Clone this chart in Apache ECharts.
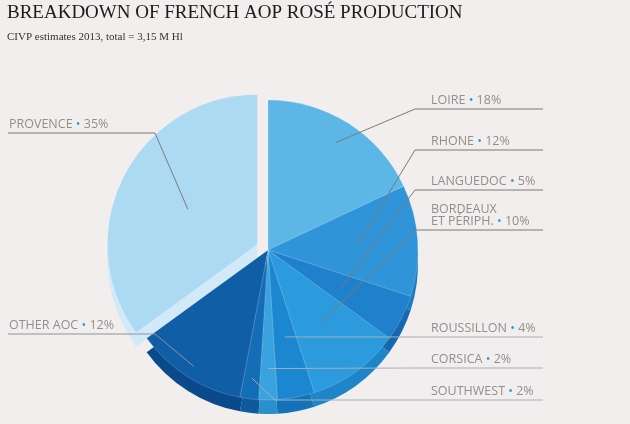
<!DOCTYPE html>
<html>
<head>
<meta charset="utf-8">
<script src="https://cdn.jsdelivr.net/npm/echarts@6/dist/echarts.min.js"></script>
<style>
    html, body { margin: 0; padding: 0; background: #f2eeed; }
    #chart { width: 630px; height: 424px; }
</style>
</head>
<body>
<div id="chart"></div>
<script>
// regions, clockwise from 12 o'clock
var regions = ['LOIRE', 'RHONE', 'LANGUEDOC', 'BORDEAUX\nET PÉRIPH.', 'ROUSSILLON', 'CORSICA', 'SOUTHWEST', 'OTHER AOC', 'PROVENCE'];
var shares = [18, 12, 5, 10, 4, 2, 2, 12, 35];
var topColors = ['#5cb6e6', '#2f95d8', '#1f80cb', '#2b9bdd', '#1a87d0', '#3aa3df', '#146db7', '#105ea6', '#acdaf3'];
var sideColors = ['#3f9fd6', '#1e7cc0', '#1667b0', '#1d85c8', '#1472b9', '#2a8fcd', '#0f5a9c', '#0b4a8a', '#d2eaf8'];
var leaderColors = ['#7a7a7a', '#7a7a7a', '#7a7a7a', '#7a7a7a', '#a3b0b8', '#a3b0b8', '#a3b0b8', '#8a949a', '#7a7a7a'];

// leader layout: underline height, elbow x, how deep into the slice the line starts
var lineY = [109, 150, 190, 230, 337, 368, 400, 334, 133];
var elbowX = [415, 415, 415, 415, 415, 415, 275, 155, 155];
var depth = [0.85, 0.6, 0.55, 0.6, 0.59, 0.79, 0.86, 0.92, 0.6];

(function () {
    var cx = 268, cy = 250, r = 150;

    function labelLayout(params) {
        var i = params.dataIndex;
        var right = i < 7;
        var p0 = params.labelLinePoints[0];
        var k = depth[i];
        var a = [cx + (p0[0] - cx) * k, cy + (p0[1] - cy) * k];
        var y = lineY[i];
        return {
            x: right ? 431 : 9,
            y: y - 3,
            align: 'left',
            verticalAlign: 'bottom',
            labelLinePoints: [a, [elbowX[i], y], [right ? 543 : 8, y]]
        };
    }

    function slices(colors) {
        return regions.map(function (name, i) {
            return {
                name: name,
                value: shares[i],
                selected: name === 'PROVENCE',
                itemStyle: { color: colors[i] }
            };
        });
    }

    var labelData = regions.map(function (name, i) {
        return {
            name: name,
            value: shares[i],
            labelLine: { lineStyle: { color: leaderColors[i] } }
        };
    });

    var chart = echarts.init(document.getElementById('chart'));
    chart.setOption({
        backgroundColor: '#f2eeed',
        animation: false,
        title: {
            text: 'BREAKDOWN OF FRENCH AOP ROSÉ PRODUCTION',
            subtext: 'CIVP estimates 2013, total = 3,15 M Hl',
            left: 2,
            top: -1,
            itemGap: 9,
            textStyle: {
                fontFamily: 'Liberation Serif',
                fontWeight: 'normal',
                fontSize: 19,
                color: '#1b1b1b'
            },
            subtextStyle: {
                fontFamily: 'Liberation Serif',
                fontSize: 11,
                color: '#333'
            }
        },
        series: [
            {
                // cylinder side
                type: 'pie',
                silent: true,
                z: 1,
                center: [cx, cy + 14],
                radius: r,
                startAngle: 90,
                selectedMode: 'multiple',
                selectedOffset: 12,
                label: { show: false },
                labelLine: { show: false },
                data: slices(sideColors)
            },
            {
                // top face
                type: 'pie',
                z: 2,
                center: [cx, cy],
                radius: r,
                startAngle: 90,
                selectedMode: 'multiple',
                selectedOffset: 12,
                itemStyle: { borderColor: 'rgba(255,255,255,0.35)', borderWidth: 0.5 },
                label: { show: false },
                labelLine: { show: false },
                data: slices(topColors)
            },
            {
                // transparent copy carrying the labels, above the slices
                type: 'pie',
                silent: true,
                z: 3,
                center: [cx, cy],
                radius: r,
                startAngle: 90,
                itemStyle: { color: 'rgba(0,0,0,0)' },
                label: {
                    show: true,
                    overflow: 'none',
                    formatter: function (p) {
                        var parts = p.name.split('\n');
                        var last = parts.pop();
                        var head = parts.map(function (s) { return '{n|' + s + '}'; }).join('\n');
                        return (head ? head + '\n' : '') + '{n|' + last + ' }{d|•}{n| ' + p.value + '%}';
                    },
                    rich: {
                        n: { fontFamily: 'Open Sans', fontSize: 12.5, color: '#8f8f8f', lineHeight: 12 },
                        d: { fontFamily: 'Open Sans', fontSize: 12.5, color: '#2d9ad8', lineHeight: 12 }
                    }
                },
                labelLine: {
                    show: true,
                    lineStyle: { width: 1 }
                },
                labelLayout: labelLayout,
                data: labelData
            }
        ]
    });
})();
</script>
</body>
</html>
